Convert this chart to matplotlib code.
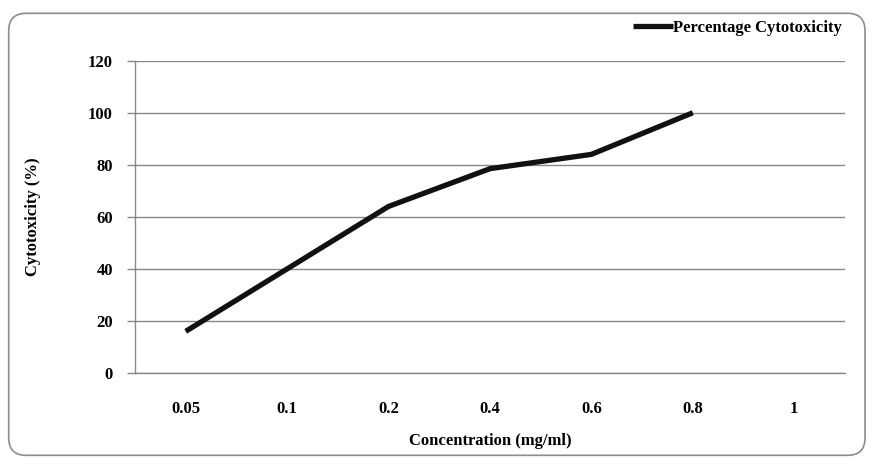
import numpy as np
import matplotlib
matplotlib.use('Agg')
from matplotlib import pyplot as plt
from matplotlib.patches import FancyBboxPatch

# data
concentrations = ['0.05', '0.1', '0.2', '0.4', '0.6', '0.8', '1']
cytotoxicity = [16, 40, 64, 78.5, 84, 100]   # no value at 1 mg/ml
y_ticks = [0, 20, 40, 60, 80, 100, 120]

plt.rcParams['font.family'] = ['Liberation Serif', 'DejaVu Serif']
plt.rcParams['font.weight'] = 'bold'

fig = plt.figure(figsize=(8.72, 4.59), dpi=100)
ax = fig.add_axes([0.1548, 0.1874, 0.8142, 0.6804])

# outer rounded frame
frame = FancyBboxPatch((0.010, 0.008), 0.982, 0.963, boxstyle='round,pad=0,rounding_size=0.02',
                       transform=fig.transFigure, fill=False, edgecolor='#8c8c8c', linewidth=1.2,
                       mutation_aspect=872 / 459)
fig.patches.append(frame)

x = np.arange(len(concentrations))
ax.plot(x[:len(cytotoxicity)], cytotoxicity, color='#111111', linewidth=3.8,
        solid_capstyle='butt', label='Percentage Cytotoxicity')

ax.set_xlim(-0.5, len(concentrations) - 0.5)
ax.set_ylim(0, 120)
ax.set_xticks(x)
ax.set_xticklabels(concentrations, fontsize=12, fontweight='bold')
ax.set_yticks(y_ticks)
ax.set_yticklabels([str(v) for v in y_ticks], fontsize=12, fontweight='bold')
ax.tick_params(axis='x', length=0, pad=20)
ax.tick_params(axis='y', length=6, color='#888888', width=1, pad=10)

ax.grid(axis='y', color='#888888', linewidth=1)
ax.set_axisbelow(True)
for s in ['top', 'right']:
    ax.spines[s].set_visible(False)
for s in ['left', 'bottom']:
    ax.spines[s].set_color('#888888')
    ax.spines[s].set_linewidth(1)

ax.set_xlabel('Concentration (mg/ml)', fontsize=12, fontweight='bold', labelpad=12)
ax.set_ylabel('Cytotoxicity (%)', fontsize=12, fontweight='bold', labelpad=34)

ax.legend(loc='center right', bbox_to_anchor=(0.975, 0.94), bbox_transform=fig.transFigure,
          frameon=False, handlelength=2.4, handletextpad=0.0, borderpad=0,
          prop={'weight': 'bold', 'size': 12})

fig.savefig('out.png', dpi=100)
